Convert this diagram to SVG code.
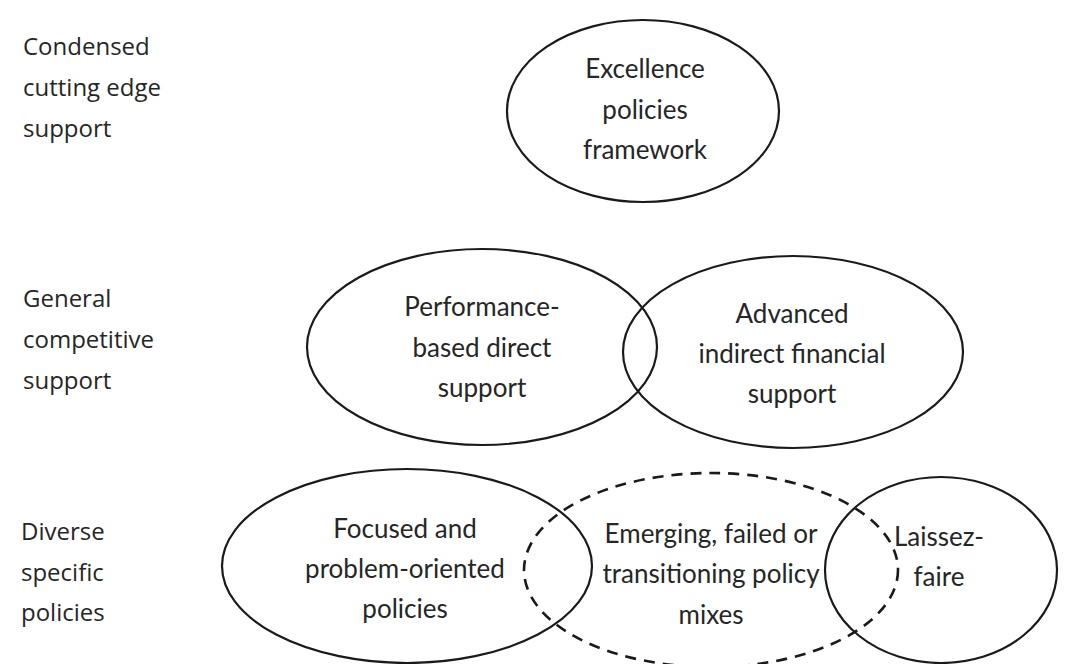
<svg xmlns="http://www.w3.org/2000/svg" width="1076" height="664" viewBox="0 0 1076 664">
  <style>
    .row { font-family: "Open Sans", "Noto Sans", sans-serif; font-size: 24px; fill: #262626; }
    .lbl { font-family: Lato, "Liberation Sans", sans-serif; font-size: 26px; fill: #262626; text-anchor: middle; }
    .oval { fill: none; stroke: #1a1a1a; stroke-width: 2.2; }
    .dash { fill: none; stroke: #1a1a1a; stroke-width: 2.6; stroke-dasharray: 11 8; }
  </style>
  <rect width="1076" height="664" fill="#ffffff"/>

  <!-- row captions -->
  <g id="row-top">
    <text class="row" x="23" y="55">Condensed</text>
    <text class="row" x="23" y="96">cutting edge</text>
    <text class="row" x="23" y="137">support</text>
  </g>
  <g id="row-mid">
    <text class="row" x="23" y="307">General</text>
    <text class="row" x="23" y="348">competitive</text>
    <text class="row" x="23" y="389">support</text>
  </g>
  <g id="row-bottom">
    <text class="row" x="21" y="540">Diverse</text>
    <text class="row" x="21" y="581">specific</text>
    <text class="row" x="21" y="621">policies</text>
  </g>

  <!-- ovals -->
  <g id="excellence">
    <ellipse class="oval" cx="643" cy="111" rx="136" ry="91"/>
    <text class="lbl" x="645" y="78">Excellence</text>
    <text class="lbl" x="645" y="119">policies</text>
    <text class="lbl" x="645" y="159">framework</text>
  </g>
  <g id="performance">
    <ellipse class="oval" cx="482" cy="347" rx="175" ry="98"/>
    <text class="lbl" x="482" y="316">Performance-</text>
    <text class="lbl" x="482" y="357">based direct</text>
    <text class="lbl" x="482" y="397">support</text>
  </g>
  <g id="advanced">
    <ellipse class="oval" cx="793" cy="352" rx="170" ry="96"/>
    <text class="lbl" x="792" y="323">Advanced</text>
    <text class="lbl" x="792" y="363">indirect financial</text>
    <text class="lbl" x="792" y="403">support</text>
  </g>
  <g id="focused">
    <ellipse class="oval" cx="407" cy="566" rx="185" ry="97"/>
    <text class="lbl" x="405" y="538">Focused and</text>
    <text class="lbl" x="405" y="578">problem-oriented</text>
    <text class="lbl" x="405" y="618">policies</text>
  </g>
  <g id="emerging">
    <ellipse class="dash" cx="711" cy="570" rx="187" ry="97"/>
    <text class="lbl" x="711" y="543">Emerging, failed or</text>
    <text class="lbl" x="711" y="583">transitioning policy</text>
    <text class="lbl" x="711" y="624">mixes</text>
  </g>
  <g id="laissez-faire">
    <ellipse class="oval" cx="941" cy="570" rx="116" ry="93"/>
    <text class="lbl" x="939" y="546">Laissez-</text>
    <text class="lbl" x="939" y="586">faire</text>
  </g>

  <g id="connectors"></g>
</svg>
